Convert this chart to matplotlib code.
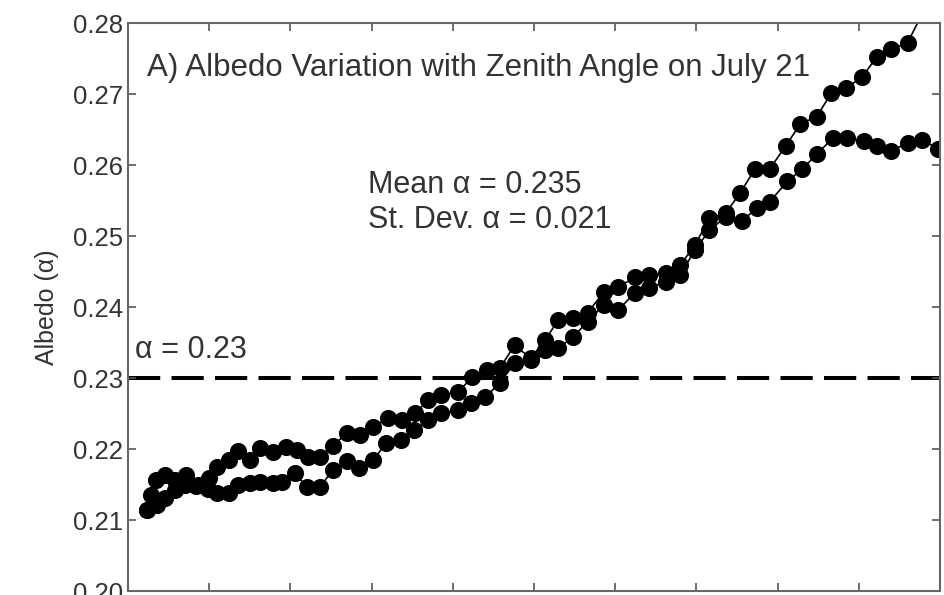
import matplotlib.pyplot as plt

plt.rcParams['font.family'] = ['Liberation Sans', 'DejaVu Sans']

# zenith angle (deg) and albedo, first branch of the day
zen_a = [21.2, 21.4, 21.7, 22.3, 22.9, 23.6, 24.3, 25.0, 25.5, 26.2,
         26.8, 27.5, 28.1, 28.9, 29.7, 30.4, 31.1, 31.8, 32.6, 33.5,
         34.3, 35.1, 36.0, 36.9, 37.7, 38.5, 39.3, 40.3, 41.2, 42.1,
         42.9, 43.8, 44.8, 45.7, 46.5, 47.4, 48.3, 49.3, 50.2, 51.2,
         52.1, 53.1, 54.0, 54.9, 55.8, 56.8, 57.7, 58.6, 59.5, 60.5,
         61.4, 62.4, 63.3, 64.2, 65.2, 66.1, 67.0, 68.0, 68.9, 69.8]
alb_a = [0.2114, 0.2135, 0.2156, 0.2163, 0.2156, 0.2163, 0.2149, 0.2159, 0.2175, 0.2185,
         0.2197, 0.2185, 0.2201, 0.2196, 0.2203, 0.2199, 0.2189, 0.2189, 0.2204, 0.2223,
         0.2220, 0.2231, 0.2244, 0.2241, 0.2251, 0.2269, 0.2276, 0.2280, 0.2301, 0.2311,
         0.2314, 0.2346, 0.2328, 0.2354, 0.2382, 0.2385, 0.2392, 0.2421, 0.2428, 0.2442,
         0.2445, 0.2448, 0.2459, 0.2487, 0.2525, 0.2532, 0.2561, 0.2594, 0.2594, 0.2627,
         0.2658, 0.2668, 0.2701, 0.2708, 0.2724, 0.2752, 0.2763, 0.2772, 0.2813, 0.2846]

# second branch
zen_b = [21.2, 21.8, 22.3, 22.9, 23.5, 24.2, 24.9, 25.5, 26.2, 26.8,
         27.5, 28.1, 28.9, 29.5, 30.3, 31.0, 31.8, 32.6, 33.5, 34.2,
         35.1, 35.9, 36.8, 37.6, 38.5, 39.3, 40.3, 41.1, 42.0, 42.9,
         43.8, 44.8, 45.7, 46.5, 47.4, 48.3, 49.3, 50.2, 51.2, 52.1,
         53.1, 54.0, 54.9, 55.8, 56.8, 57.8, 58.7, 59.5, 60.6, 61.5,
         62.4, 63.4, 64.3, 65.3, 66.1, 67.0, 68.0, 68.9, 69.9]
alb_b = [0.2114, 0.2121, 0.2131, 0.2142, 0.2149, 0.2148, 0.2144, 0.2138, 0.2138, 0.2149,
         0.2152, 0.2154, 0.2152, 0.2154, 0.2166, 0.2146, 0.2146, 0.2170, 0.2183, 0.2173,
         0.2185, 0.2208, 0.2213, 0.2227, 0.2241, 0.2251, 0.2255, 0.2265, 0.2273, 0.2293,
         0.2321, 0.2325, 0.2339, 0.2342, 0.2358, 0.2379, 0.2403, 0.2396, 0.2420, 0.2427,
         0.2435, 0.2445, 0.2480, 0.2508, 0.2527, 0.2521, 0.2539, 0.2548, 0.2577, 0.2594,
         0.2615, 0.2638, 0.2638, 0.2634, 0.2627, 0.2620, 0.2631, 0.2635, 0.2623]

ref_albedo = 0.23
mean_albedo = 0.235
std_albedo = 0.021

fig = plt.figure(figsize=(9.44, 5.95), dpi=100)
ax = fig.add_axes([0.1356, 0.0067, 0.8602, 0.9546])

ax.axhline(ref_albedo, color='black', lw=2.9, linestyle=(0, (8, 2.8)), zorder=1)
ax.plot(zen_a, alb_a, '-o', color='black', lw=1.2, ms=11.3, zorder=2)
ax.plot(zen_b, alb_b, '-o', color='black', lw=1.2, ms=11.3, zorder=2)

ax.set_xlim(20, 70)
ax.set_ylim(0.20, 0.28)
ax.set_xticks(range(20, 71, 5))
ax.set_yticks([0.20, 0.21, 0.22, 0.23, 0.24, 0.25, 0.26, 0.27, 0.28])
ax.set_yticklabels(['0.20', '0.21', '0.22', '0.23', '0.24', '0.25', '0.26', '0.27', '0.28'])
ax.tick_params(direction='in', top=True, right=True, length=6, width=1.2,
               color='#555555', labelsize=18.5, labelcolor='#333333', labelbottom=False)
for s in ax.spines.values():
    s.set_color('#666666')
    s.set_linewidth(1.5)

ax.set_ylabel('Albedo (α)', fontsize=18, color='#333333', labelpad=10)

ax.text(21.2, 0.2737, 'A) Albedo Variation with Zenith Angle on July 21',
        fontsize=22.5, color='#333333', va='center')
ax.text(34.8, 0.2572, 'Mean α = %.3f' % mean_albedo, fontsize=22, color='#333333', va='center')
ax.text(34.8, 0.2523, 'St. Dev. α = %.3f' % std_albedo, fontsize=22, color='#333333', va='center')
ax.text(20.4, 0.2339, 'α = %.2f' % ref_albedo, fontsize=22, color='#333333', va='center')

fig.savefig('out.png', dpi=100)
